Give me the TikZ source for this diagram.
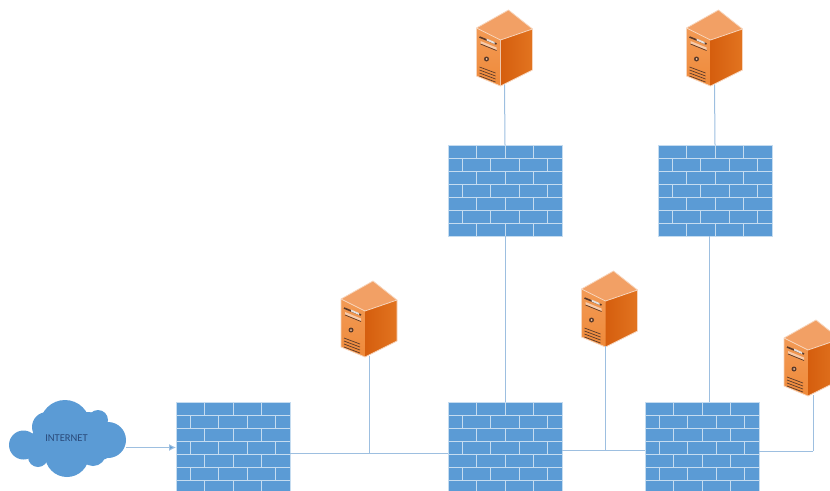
\documentclass[tikz,border=0pt]{standalone}
\usepackage{fontspec}
\setmainfont{Carlito}
\usepackage{tikz}
\usetikzlibrary{calc,arrows.meta}

\definecolor{wallblue}{HTML}{5B9BD5}
\definecolor{mortar}{HTML}{C5DCF0}
\definecolor{linkblue}{HTML}{9DBFE0}
\definecolor{lettering}{HTML}{2A4A7A}
\definecolor{srvtop}{HTML}{F2A065}
\definecolor{srvfront}{HTML}{F29A55}
\definecolor{srvfrontlow}{HTML}{EF8A3A}
\definecolor{srvside}{HTML}{D55E0E}
\definecolor{srvsidelow}{HTML}{E27420}
\definecolor{srvedge}{HTML}{F7D5BC}
\definecolor{srvdark}{HTML}{5A3A2A}

\tikzset{
    wall/.style={minimum width=114, minimum height=91, inner sep=0pt, outer sep=0pt},
    server/.style={minimum width=58, minimum height=75.5, inner sep=0pt, outer sep=0pt},
    netcloud/.style={minimum width=116, minimum height=77, inner sep=0pt, outer sep=0pt,
        font=\fontsize{10.5}{12}\selectfont, text=lettering},
    link/.style={draw=linkblue, line width=1},
}

\newcommand{\firewall}[2]{
    \node [wall] (#1) at (#2) {};
    \begin{scope}[shift={(#1.north west)}]
        \fill [wallblue] (0,0) rectangle (114,91);
        \foreach \row in {0,26,52,78} {
            \foreach \col in {28.6,57,85.2} {
                \draw [mortar, line width=0.9] (\col,\row) -- (\col,\row+13);
            }
        }
        \foreach \row in {13,39,65} {
            \foreach \col in {14.4,42.8,71.2,99.6} {
                \draw [mortar, line width=0.9] (\col,\row) -- (\col,\row+13);
            }
        }
        \foreach \row in {0,13,...,91} {
            \draw [mortar, line width=1] (0,\row) -- (114,\row);
        }
        \draw [mortar, line width=0.7] (0,0) rectangle (114,91);
    \end{scope}
}

\newcommand{\tower}[2]{
    \node [server] (#1) at (#2) {};
    \begin{scope}[shift={(#1.north west)}]
        % box faces
        \fill [srvtop] (1,19) -- (33,1) -- (57,20) -- (25,31) -- cycle;
        \shade [top color=srvfront, bottom color=srvfrontlow] (1,19) -- (25,31) -- (25,77) -- (1,67) -- cycle;
        \shade [left color=srvside, right color=srvsidelow] (25,31) -- (57,20) -- (57,61) -- (25,77) -- cycle;
        \draw [srvedge, line width=0.8] (1,19) -- (33,1) -- (57,20) -- (57,61) -- (25,77) -- (1,67) -- cycle;
        \draw [srvedge, line width=0.8] (1,19) -- (25,31) -- (57,20);
        % drive bays
        \draw [srvdark, line width=1.6] (4,28) -- (21,35);
        \fill [white!85!srvdark] (11,29.5) -- (19,33) -- (19,35) -- (11,31.5) -- cycle;
        \fill [srvtop!55!white] (5,32) -- (21,38.5) -- (21,41) -- (5,34.5) -- cycle;
        \draw [srvdark, line width=0.7] (5,35) -- (21,41.5);
        % button
        \fill [srvdark] (11,50) circle (2.5);
        \fill [srvtop!60!white] (11,50) circle (1);
        % vents
        \foreach \vent in {0,1,2,3} {
            \draw [srvdark, line width=0.7] (4,58+3*\vent) -- (20,64+3*\vent);
        }
    \end{scope}
}

\begin{document}
\begin{tikzpicture}[x=1pt, y=-1pt]
    \clip (0,0) rectangle (830,490);
    % Place nodes
    \begin{scope}[shift={(10,400)}]
        \foreach \cx/\cy/\cr in {13.5/45/14.5, 28/57/10, 57/55/22, 83/53/13, 98/40/18, 88/20/10,
                55/25/25, 37/27/15, 60/40/28, 30/45/14, 78/30/18, 90/45/15} {
            \fill [wallblue] (\cx,\cy) circle (\cr);
        }
    \end{scope}
    \node [netcloud] (cloud) at (68,438.5) {\hspace{-3pt}INTERNET};
    \firewall{fwA}{233,447.5}
    \firewall{fwB}{505,447.5}
    \firewall{fwC}{702,447.5}
    \firewall{fwD}{505,190.5}
    \firewall{fwE}{715,190.5}
    \tower{srvA}{504.5,46.75}
    \tower{srvB}{714.5,46.75}
    \tower{srvC}{369,317.75}
    \tower{srvD}{609.5,307.75}
    \tower{srvE}{812,356.75}
    \coordinate (busA) at (369,453);
    \coordinate (busB) at (605,450);
    \coordinate (busC) at (813,451);
    \coordinate (riser) at (709,320);
    % Place links
    \path [link, -{Latex[length=7,width=7,fill=wallblue]}] (cloud.east |- fwA.west) -- (fwA.west);
    \path [link] (fwA.east |- busA) -- (fwB.west |- busA);
    \path [link] (srvC.south) -- (busA);
    \path [link] (fwB.east |- busB) -- (fwC.west |- busB);
    \path [link] (busB |- srvD.south) -- (busB);
    \path [link] (fwC.east |- busC) -- (busC);
    \path [link] (busC) -- (busC |- srvE.south);
    \path [link] (fwB.north) -- (fwD.south);
    \path [link] (riser |- fwC.north) -- (riser |- fwE.south);
    \path [link] (fwD.north) -- (srvA.south);
    \path [link] (fwE.north) -- (srvB.south);
\end{tikzpicture}
\end{document}
